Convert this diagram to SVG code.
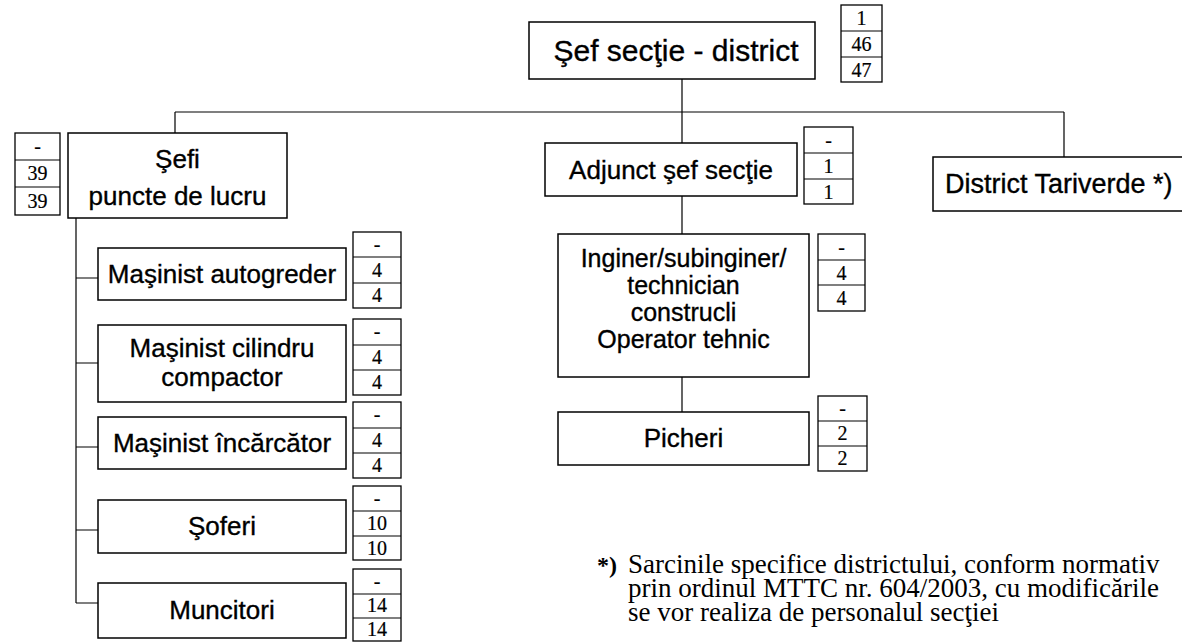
<svg xmlns="http://www.w3.org/2000/svg" width="1182" height="642" viewBox="0 0 1182 642">
<style>
.box{fill:#fff;stroke:#000;stroke-width:1.5}
.cnt{fill:#fff;stroke:#000;stroke-width:1.3}
.ln{stroke:#000;stroke-width:1.2;fill:none}
.t{font-family:"Liberation Sans",Arial,sans-serif;font-size:26px;fill:#000;text-anchor:middle;stroke:#000;stroke-width:0.35}
.n{font-family:"Liberation Serif","Times New Roman",serif;font-size:20px;fill:#000;text-anchor:middle;stroke:#000;stroke-width:0.2}
.f{font-family:"Liberation Serif","Times New Roman",serif;font-size:27px;fill:#000}
</style>
<rect width="1182" height="642" fill="#fff"/>
<g id="connectors" class="ln">
<path d="M682 79V112M175 112H1064M175 112V133M682 112V143M1064 112V157"/>
<path d="M682 196V234M682 377V412"/>
<path d="M76 218V603M76 278H98M76 363H98M76 447H98M76 530H98M76 603H98"/>
</g>
<g id="sef">
<rect class="box" x="529" y="22" width="286" height="57"/>
<text class="t" x="676" y="61" style="font-size:30px">Şef secţie - district</text>
<rect class="cnt" x="841" y="5" width="41" height="77"/>
<path class="ln" d="M841 31H882M841 57H882"/>
<text class="n" x="861.5" y="25">1</text><text class="n" x="861.5" y="51">46</text><text class="n" x="861.5" y="77">47</text>
</g>
<g id="sefi">
<rect class="box" x="68" y="133" width="219" height="85"/>
<text class="t" x="177.5" y="168">Şefi</text>
<text class="t" x="177.5" y="205">puncte de lucru</text>
<rect class="cnt" x="15" y="133" width="45" height="82"/>
<path class="ln" d="M15 160H60M15 187H60"/>
<text class="n" x="37.5" y="153">-</text><text class="n" x="37.5" y="180">39</text><text class="n" x="37.5" y="208">39</text>
</g>
<g id="adjunct">
<rect class="box" x="545" y="143" width="252" height="53"/>
<text class="t" x="671" y="179">Adjunct şef secţie</text>
<rect class="cnt" x="804" y="127" width="49" height="77"/>
<path class="ln" d="M804 153H853M804 179H853"/>
<text class="n" x="828.5" y="147">-</text><text class="n" x="828.5" y="173">1</text><text class="n" x="828.5" y="199">1</text>
</g>
<g id="district">
<rect class="box" x="933" y="157" width="260" height="54"/>
<text class="t" x="945" y="193" style="text-anchor:start;font-size:27px">District Tariverde *)</text>
</g>
<g id="inginer">
<rect class="box" x="558" y="234" width="251" height="143"/>
<text class="t" x="683.5" y="267" style="font-size:25px">Inginer/subinginer/</text>
<text class="t" x="683.5" y="294" style="font-size:25px">technician</text>
<text class="t" x="683.5" y="321" style="font-size:25px">construcli</text>
<text class="t" x="683.5" y="348" style="font-size:25px">Operator tehnic</text>
<rect class="cnt" x="818" y="234" width="47" height="77"/>
<path class="ln" d="M818 260H865M818 285H865"/>
<text class="n" x="841.5" y="254">-</text><text class="n" x="841.5" y="280">4</text><text class="n" x="841.5" y="305">4</text>
</g>
<g id="picheri">
<rect class="box" x="558" y="412" width="251" height="53"/>
<text class="t" x="683.5" y="447">Picheri</text>
<rect class="cnt" x="818" y="396" width="49" height="75"/>
<path class="ln" d="M818 421H867M818 446H867"/>
<text class="n" x="842.5" y="415">-</text><text class="n" x="842.5" y="440">2</text><text class="n" x="842.5" y="465">2</text>
</g>
<g id="autogreder">
<rect class="box" x="98" y="248" width="248" height="52"/>
<text class="t" x="222" y="283">Maşinist autogreder</text>
<rect class="cnt" x="353" y="232" width="48" height="76"/>
<path class="ln" d="M353 257H401M353 283H401"/>
<text class="n" x="377" y="251">-</text><text class="n" x="377" y="277">4</text><text class="n" x="377" y="302">4</text>
</g>
<g id="cilindru">
<rect class="box" x="98" y="325" width="248" height="77"/>
<text class="t" x="222" y="357">Maşinist cilindru</text>
<text class="t" x="222" y="386">compactor</text>
<rect class="cnt" x="353" y="319" width="48" height="76"/>
<path class="ln" d="M353 345H401M353 370H401"/>
<text class="n" x="377" y="338">-</text><text class="n" x="377" y="364">4</text><text class="n" x="377" y="389">4</text>
</g>
<g id="incarcator">
<rect class="box" x="98" y="417" width="248" height="52"/>
<text class="t" x="222" y="452">Maşinist încărcător</text>
<rect class="cnt" x="353" y="402" width="48" height="76"/>
<path class="ln" d="M353 428H401M353 453H401"/>
<text class="n" x="377" y="421">-</text><text class="n" x="377" y="447">4</text><text class="n" x="377" y="472">4</text>
</g>
<g id="soferi">
<rect class="box" x="98" y="500" width="248" height="53"/>
<text class="t" x="222" y="535">Şoferi</text>
<rect class="cnt" x="353" y="486" width="48" height="74"/>
<path class="ln" d="M353 511H401M353 536H401"/>
<text class="n" x="377" y="505">-</text><text class="n" x="377" y="530">10</text><text class="n" x="377" y="555">10</text>
</g>
<g id="muncitori">
<rect class="box" x="98" y="583" width="248" height="55"/>
<text class="t" x="222" y="619">Muncitori</text>
<rect class="cnt" x="353" y="569" width="48" height="72"/>
<path class="ln" d="M353 594H401M353 618H401"/>
<text class="n" x="377" y="588">-</text><text class="n" x="377" y="612">14</text><text class="n" x="377" y="636">14</text>
</g>
<g id="footnote" class="f">
<text x="597" y="573" style="font-weight:bold;font-size:24px">*)</text>
<text x="628" y="573">Sarcinile specifice districtului, conform normativ</text>
<text x="628" y="597">prin ordinul MTTC nr. 604/2003, cu modificările</text>
<text x="628" y="621">se vor realiza de personalul secţiei</text>
</g>
</svg>
